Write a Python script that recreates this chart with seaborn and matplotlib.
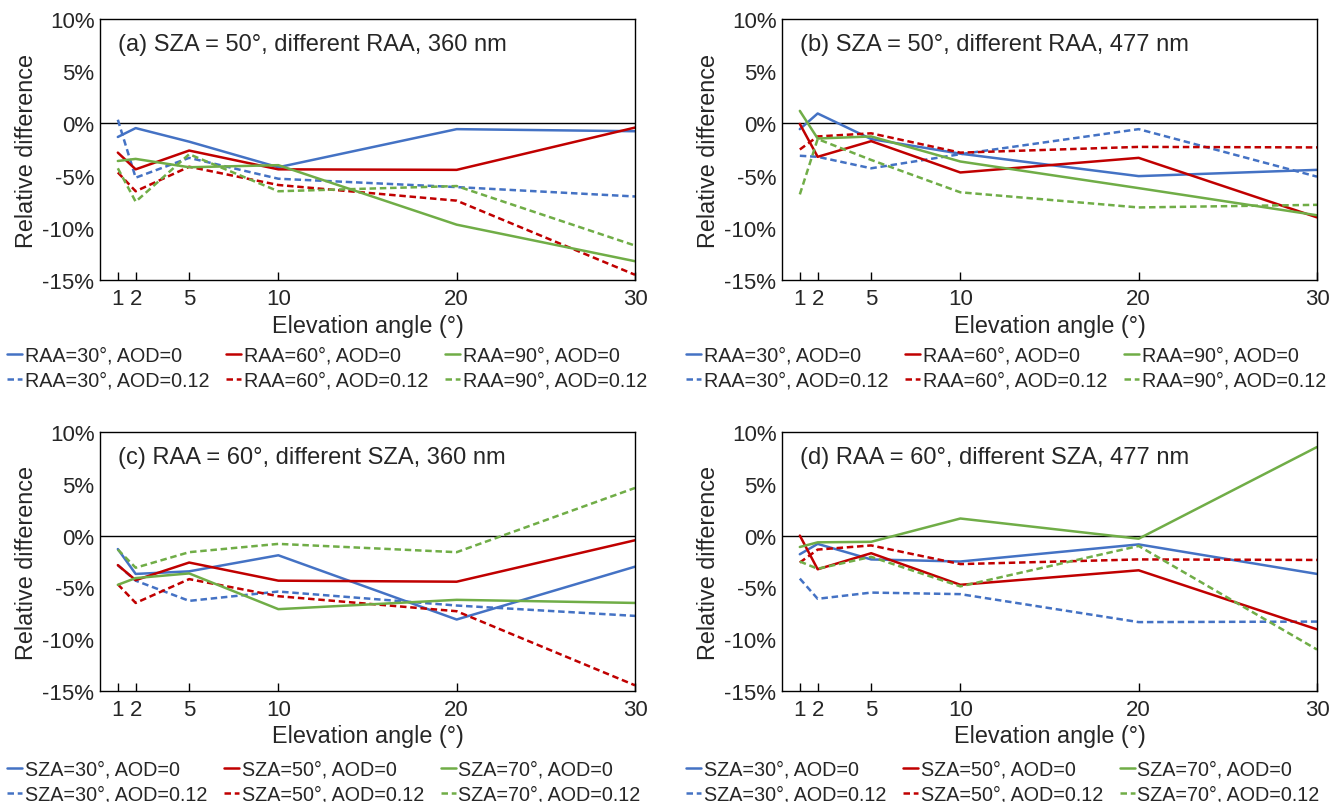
import seaborn as sns
import matplotlib.pyplot as plt
from matplotlib.ticker import FuncFormatter

sns.set_theme(style="white")
plt.rcParams['font.family'] = ['Liberation Sans', 'DejaVu Sans']

elev = [1, 2, 5, 10, 20, 30]

# (a) SZA = 50, different RAA, 360 nm
a_raa30_aod0 = [-1.3, -0.45, -1.75, -4.2, -0.55, -0.75]
a_raa60_aod0 = [-2.8, -4.4, -2.6, -4.4, -4.45, -0.4]
a_raa90_aod0 = [-3.6, -3.4, -4.2, -4.0, -9.7, -13.2]
a_raa30_aod012 = [0.35, -5.2, -3.3, -5.3, -6.1, -7.0]
a_raa60_aod012 = [-4.7, -6.5, -4.15, -5.9, -7.4, -14.5]
a_raa90_aod012 = [-4.3, -7.5, -2.95, -6.5, -6.0, -11.7]

# (b) SZA = 50, different RAA, 477 nm
b_raa30_aod0 = [-0.55, 0.95, -1.5, -2.9, -5.05, -4.45]
b_raa60_aod0 = [-0.05, -3.2, -1.7, -4.7, -3.3, -9.0]
b_raa90_aod0 = [1.2, -1.45, -1.25, -3.65, -6.2, -8.8]
b_raa30_aod012 = [-3.1, -3.2, -4.3, -2.95, -0.55, -5.1]
b_raa60_aod012 = [-2.5, -1.25, -0.95, -2.8, -2.25, -2.3]
b_raa90_aod012 = [-6.8, -1.5, -3.5, -6.6, -8.05, -7.8]

# (c) RAA = 60, different SZA, 360 nm
c_sza30_aod0 = [-1.3, -3.7, -3.45, -1.9, -8.1, -3.0]
c_sza50_aod0 = [-2.85, -4.3, -2.6, -4.35, -4.45, -0.45]
c_sza70_aod0 = [-4.75, -4.1, -3.65, -7.1, -6.2, -6.5]
c_sza30_aod012 = [-2.85, -4.35, -6.3, -5.4, -6.75, -7.75]
c_sza50_aod012 = [-4.7, -6.5, -4.2, -5.85, -7.3, -14.45]
c_sza70_aod012 = [-1.35, -3.1, -1.6, -0.8, -1.6, 4.6]

# (d) RAA = 60, different SZA, 477 nm
d_sza30_aod0 = [-1.8, -0.8, -2.3, -2.5, -0.85, -3.7]
d_sza50_aod0 = [0.0, -3.25, -1.7, -4.75, -3.35, -9.05]
d_sza70_aod0 = [-1.1, -0.65, -0.6, 1.65, -0.3, 8.55]
d_sza30_aod012 = [-4.15, -6.1, -5.5, -5.65, -8.35, -8.3]
d_sza50_aod012 = [-2.6, -1.35, -0.95, -2.75, -2.3, -2.35]
d_sza70_aod012 = [-2.5, -3.2, -2.05, -4.9, -1.0, -11.0]

titles = ["(a) SZA = 50°, different RAA, 360 nm",
          "(b) SZA = 50°, different RAA, 477 nm",
          "(c) RAA = 60°, different SZA, 360 nm",
          "(d) RAA = 60°, different SZA, 477 nm"]
raa_names = ["RAA=30°", "RAA=60°", "RAA=90°"]
sza_names = ["SZA=30°", "SZA=50°", "SZA=70°"]
aod_names = ["AOD=0", "AOD=0.12"]

panels = [
    ([a_raa30_aod0, a_raa60_aod0, a_raa90_aod0], [a_raa30_aod012, a_raa60_aod012, a_raa90_aod012], raa_names),
    ([b_raa30_aod0, b_raa60_aod0, b_raa90_aod0], [b_raa30_aod012, b_raa60_aod012, b_raa90_aod012], raa_names),
    ([c_sza30_aod0, c_sza50_aod0, c_sza70_aod0], [c_sza30_aod012, c_sza50_aod012, c_sza70_aod012], sza_names),
    ([d_sza30_aod0, d_sza50_aod0, d_sza70_aod0], [d_sza30_aod012, d_sza50_aod012, d_sza70_aod012], sza_names),
]

colors = ["#4472C4", "#C00000", "#70AD47"]
W, H = 1331, 803
# axes boxes in pixels: left, right, top, bottom
boxes = [(100, 635, 20, 281), (782, 1317, 20, 281),
         (100, 635, 433, 692), (782, 1317, 433, 692)]
legend_pos = [(7, 347), (686, 347), (7, 761), (686, 761)]

fig = plt.figure(figsize=(W / 100, H / 100), dpi=100)

for i, (solid, dashed, names) in enumerate(panels):
    l, r, t, b = boxes[i]
    ax = fig.add_axes([l / W, 1 - b / H, (r - l) / W, (b - t) / H])
    ax.axhline(0, color="black", lw=1.0, zorder=1)
    for k in range(3):
        sns.lineplot(x=elev, y=solid[k], color=colors[k], lw=1.8, ax=ax,
                     label=f"{names[k]}, {aod_names[0]}")
        sns.lineplot(x=elev, y=dashed[k], color=colors[k], lw=1.8, ax=ax,
                     linestyle=(0, (2.6, 1.5)), label=f"{names[k]}, {aod_names[1]}")
    ax.set_xlim(0, 30)
    ax.set_ylim(-15, 10)
    ax.set_xticks(elev)
    ax.set_yticks([-15, -10, -5, 0, 5, 10])
    ax.yaxis.set_major_formatter(FuncFormatter(lambda v, p: f"{v:.0f}%"))
    ax.tick_params(axis="x", direction="in", length=6, width=1, color="black",
                   labelsize=16, pad=6, bottom=True)
    ax.tick_params(axis="y", length=0, labelsize=16, pad=4)
    for sp in ax.spines.values():
        sp.set_color("black")
        sp.set_linewidth(1.0)
    ax.set_xlabel("Elevation angle (°)", fontsize=16.8, labelpad=3)
    ax.set_ylabel("Relative difference", fontsize=16.8, labelpad=3)
    ax.text(0.033, 0.945, titles[i], transform=ax.transAxes, fontsize=17,
            va="top", ha="left")
    h, lab = ax.get_legend_handles_labels()
    lx, ly = legend_pos[i]
    ax.legend(h, lab, ncol=3, loc="upper left", frameon=False,
              bbox_to_anchor=(lx / W, 1 - ly / H), bbox_transform=fig.transFigure,
              fontsize=14.2, handlelength=0.78, handletextpad=0.12,
              columnspacing=0.85, labelspacing=0.28, borderaxespad=0, borderpad=0)

fig.savefig("out.png", dpi=100)
